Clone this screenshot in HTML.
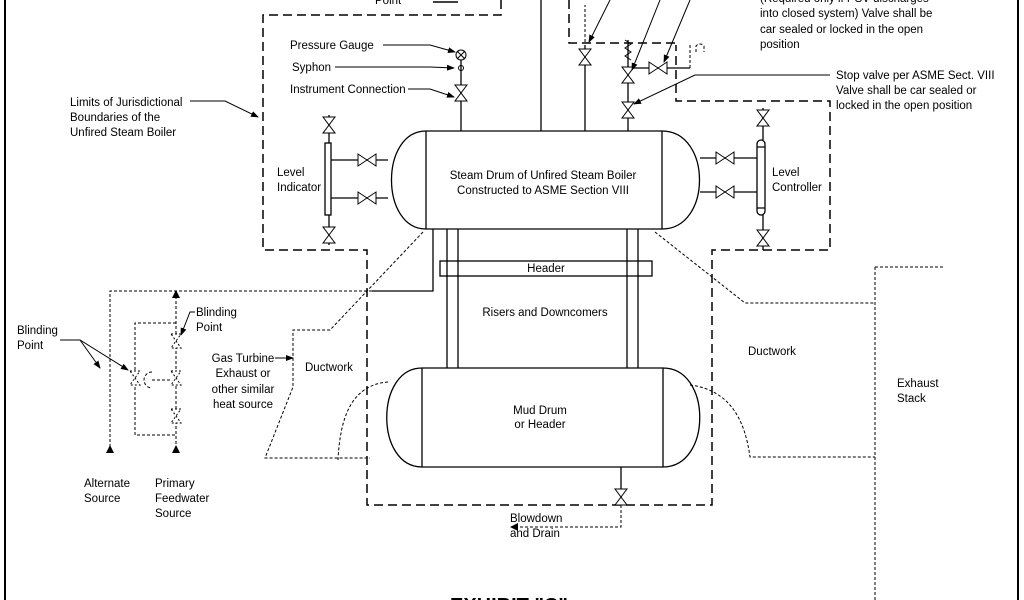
<!DOCTYPE html>
<html><head><meta charset="utf-8"><style>
html,body{margin:0;padding:0;background:#fff;}
svg{display:block;font-family:"Liberation Sans",Arial,sans-serif;font-size:11.5px;}
</style></head><body>
<svg width="1024" height="600" viewBox="0 0 1024 600" xmlns="http://www.w3.org/2000/svg">
<defs>
<g id="vv"><path d="M-6,-8 L6,-8 L-6,8 L6,8 Z" fill="#fff" stroke="#000" stroke-width="1"/></g>
<g id="hv"><path d="M-9,-6 L-9,6 L9,-6 L9,6 Z" fill="#fff" stroke="#000" stroke-width="1"/></g>
<g id="vvd"><path d="M-5,-7 L5,-7 L-5,7 L5,7 Z" fill="#fff" stroke="#000" stroke-width="1" stroke-dasharray="2,2"/></g>
<marker id="ar" markerWidth="8" markerHeight="8" refX="7" refY="3" orient="auto"><path d="M0,0 L8,3 L0,6 Z" fill="#000"/></marker>
</defs>
<rect width="1024" height="600" fill="#fff"/>
<line x1="5" y1="0" x2="5" y2="600" stroke="#000" stroke-width="2"/>
<line x1="1018" y1="0" x2="1018" y2="600" stroke="#000" stroke-width="2"/>

<g fill="none" stroke="#000" stroke-width="1.5" stroke-dasharray="9,5">
<path d="M501,0 V15 H263 V250 H367 V505 H712 V250 H830 V101 H676 V45"/>
<path d="M569,0 V43 H676"/>
</g>

<g fill="none" stroke="#000" stroke-width="1.3">
<path d="M426,131 H662 M426,229 H662 M426,131 V229 M662,131 V229"/>
<path d="M426,131 C380,131 380,229 426,229"/>
<path d="M662,131 C712,131 712,229 662,229"/>
<path d="M422,368 H663 M422,467 H663 M422,368 V467 M663,368 V467"/>
<path d="M422,368 C375,368 375,467 422,467"/>
<path d="M663,368 C712,368 712,467 663,467"/>
<rect x="440" y="261" width="212" height="15"/>
<path d="M447,229 V368 M458,229 V368 M627,229 V368 M638,229 V368"/>
<path d="M461,131 V60 M541,131 V0 M585,131 V45 M628,131 V40"/>
<path d="M433,229 V291 H372"/>
<path d="M331,160 H388 M331,198 H388 M329,115 V143 M329,215 V245"/>
<rect x="325" y="143" width="6" height="72"/>
<path d="M700,158 H757 M700,192 H757 M763,108 V140 M763,215 V250"/>
<rect x="757" y="140" width="8" height="75" rx="4"/>
<path d="M757,147 H765 M757,208 H765"/>
<path d="M628,68 H690 M621,467 V505"/>
</g>
<circle cx="461" cy="55" r="5" fill="#fff" stroke="#000"/>
<path d="M457,51 L465,59 M465,51 L457,59" stroke="#000"/>
<circle cx="461" cy="68" r="2.5" fill="none" stroke="#000"/>
<use href="#vv" x="461" y="93"/>
<use href="#vv" x="585" y="57"/>
<use href="#vv" x="628" y="75"/>
<path d="M625,40 L631,44 L625,48 L631,52 L625,56 L631,60" fill="none" stroke="#000"/>
<use href="#vv" x="628" y="110"/>
<use href="#hv" x="658" y="68"/>
<use href="#vv" x="329" y="125"/>
<use href="#vv" x="329" y="235"/>
<use href="#hv" x="367" y="160"/>
<use href="#hv" x="367" y="198"/>
<use href="#vv" x="763" y="118"/>
<use href="#vv" x="763" y="238"/>
<use href="#hv" x="725" y="158"/>
<use href="#hv" x="725" y="192"/>
<use href="#vv" x="621" y="497"/>

<g fill="none" stroke="#000" stroke-width="1" stroke-dasharray="3,2">
<path d="M690,68 V45 M696,52 V46 Q700,42 704,46 V52"/>
<path d="M585,42 V5"/>
<path d="M621,505 V527 H512"/>
<path d="M372,291 H110 V450"/>
<path d="M176,296 V450"/>
<path d="M176,323 H135 V435 H176"/>
<path d="M152,380 H170 M152,372 A8,8 0 0 0 152,388"/>
<path d="M423,232 L330,330 H293 V387 L265,458 H370"/>
<path d="M388,382 C350,385 340,420 338,460"/>
<path d="M655,232 L745,303 H875 M875,267 V600 M875,267 H945"/>
<path d="M690,385 C730,390 745,420 750,457 H875"/>
</g>
<use href="#vvd" x="135" y="378"/>
<use href="#vvd" x="176" y="341"/>
<use href="#vvd" x="176" y="378"/>
<use href="#vvd" x="176" y="416"/>

<g fill="none" stroke="#000" stroke-width="1" marker-end="url(#ar)">
<path d="M383,45 H430 L455,52"/>
<path d="M335,67 H430 L454,68"/>
<path d="M408,89 H430 L454,97"/>
<path d="M190,101 H225 L258,117"/>
<path d="M610,0 L589,42"/>
<path d="M660,0 L632,70"/>
<path d="M690,0 L664,62"/>
<path d="M830,75 H695 L634,104"/>
<path d="M80,340 L100,368"/>
<path d="M60,340 H80 L128,370"/>
<path d="M195,312 H190 L181,335"/>
<path d="M275,358 H293"/>
</g>
<path d="M110,445 l-4,8 h8 Z M176,445 l-4,8 h8 Z M176,290 l-4,8 h8 Z M510,527 l8,-4 v8 Z" fill="#000"/>
<line x1="433" y1="2" x2="458" y2="2" stroke="#000" stroke-width="1.5"/>

<g fill="#000">
<text x="375" y="4">Point</text>
<text x="290" y="49">Pressure Gauge</text>
<text x="292" y="71">Syphon</text>
<text x="290" y="93">Instrument Connection</text>
<text x="70" y="106">Limits of Jurisdictional</text>
<text x="70" y="121">Boundaries of the</text>
<text x="70" y="136">Unfired Steam Boiler</text>
<text x="760" y="2">(Required only if PSV discharges</text>
<text x="760" y="17">into closed system) Valve shall be</text>
<text x="760" y="33">car sealed or locked in the open</text>
<text x="760" y="48">position</text>
<text x="836" y="79">Stop valve per ASME Sect. VIII</text>
<text x="836" y="94">Valve shall be car sealed or</text>
<text x="836" y="109">locked in the open position</text>
<text x="277" y="176">Level</text>
<text x="277" y="191">Indicator</text>
<text x="772" y="176">Level</text>
<text x="772" y="191">Controller</text>
<text x="543" y="179" text-anchor="middle">Steam Drum of Unfired Steam Boiler</text>
<text x="543" y="194" text-anchor="middle">Constructed to ASME Section VIII</text>
<text x="546" y="272" text-anchor="middle">Header</text>
<text x="545" y="316" text-anchor="middle">Risers and Downcomers</text>
<text x="540" y="414" text-anchor="middle">Mud Drum</text>
<text x="540" y="428" text-anchor="middle">or Header</text>
<text x="748" y="355">Ductwork</text>
<text x="305" y="371">Ductwork</text>
<text x="897" y="387">Exhaust</text>
<text x="897" y="402">Stack</text>
<text x="17" y="334">Blinding</text>
<text x="17" y="349">Point</text>
<text x="196" y="316">Blinding</text>
<text x="196" y="331">Point</text>
<text x="243" y="362" text-anchor="middle">Gas Turbine</text>
<text x="243" y="377" text-anchor="middle">Exhaust or</text>
<text x="243" y="393" text-anchor="middle">other similar</text>
<text x="243" y="408" text-anchor="middle">heat source</text>
<text x="84" y="487">Alternate</text>
<text x="84" y="502">Source</text>
<text x="155" y="487">Primary</text>
<text x="155" y="502">Feedwater</text>
<text x="155" y="517">Source</text>
<text x="510" y="522">Blowdown</text>
<text x="510" y="537">and Drain</text>
<text x="450" y="612" font-size="20" font-weight="bold">EXHIBIT "C"</text>
</g>
</svg>
</body></html>
